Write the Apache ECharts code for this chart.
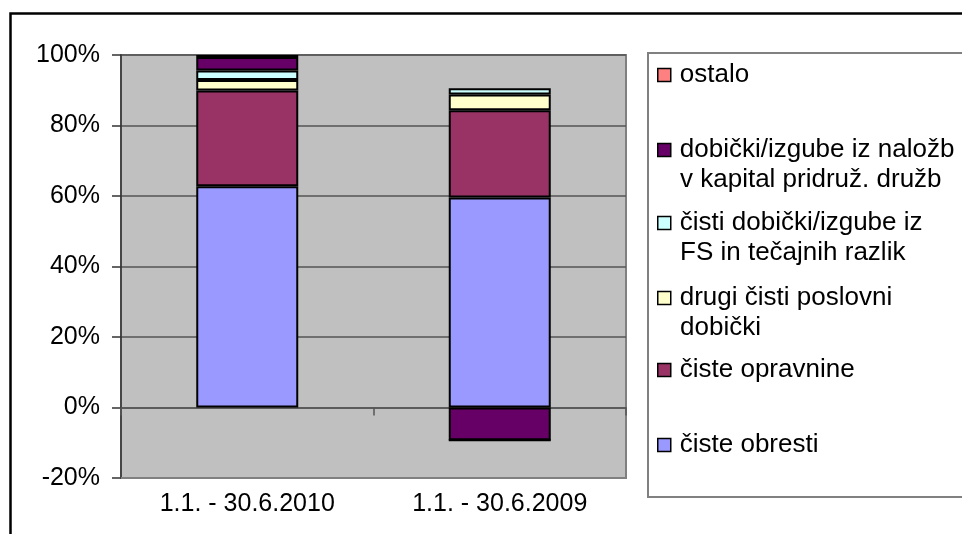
<!DOCTYPE html>
<html>
<head>
<meta charset="utf-8">
<script src="https://cdn.jsdelivr.net/npm/echarts@6/dist/echarts.min.js"></script>
<style>
    html, body { margin: 0; padding: 0; background: #fff; }
    #chart { width: 962px; height: 534px; }
</style>
</head>
<body>
<div id="chart"></div>
<script>
const categories = ['1.1. - 30.6.2010', '1.1. - 30.6.2009']
const cisteObresti = [62.8, 59.6]
const cisteOpravnine = [27.1, 24.7]
const drugiDobicki = [3.0, 4.5]
const cistiDobicki = [2.7, 1.8]
const dobickiNalozb = [3.8, -9.3]
const ostalo = [0.6, 0]
const yTicks = [-20, 0, 20, 40, 60, 80, 100]

const font = "'Liberation Sans', Arial, sans-serif"
const fontSize = 25
const legendFontSize = 26

const seriesList = [
    { name: 'čiste obresti', data: cisteObresti, color: '#9999ff' },
    { name: 'čiste opravnine', data: cisteOpravnine, color: '#993366' },
    { name: 'drugi čisti poslovni', data: drugiDobicki, color: '#ffffcc', line2: 'dobički' },
    { name: 'čisti dobički/izgube iz', data: cistiDobicki, color: '#ccffff', line2: 'FS in tečajnih razlik' },
    { name: 'dobički/izgube iz naložb', data: dobickiNalozb, color: '#660066', line2: 'v kapital pridruž. družb' },
    { name: 'ostalo', data: ostalo, color: '#ff8080' }
]
// legend first-line centres (px), same order as seriesList
const legendY = [445, 370, 298, 223, 150, 75]

const chart = echarts.init(document.getElementById('chart'))

const legends = seriesList.map((s, i) => ({
    data: [s.name],
    left: 657,
    top: legendY[i] - 15,
    padding: 0,
    icon: 'rect',
    itemWidth: 13,
    itemHeight: 13,
    selectedMode: false,
    itemStyle: { borderColor: '#000', borderWidth: 1.5 },
    textStyle: { fontFamily: font, fontSize: legendFontSize, color: '#000', lineHeight: 30, padding: [0, 0, 0, 4] }
}))

const graphics = [
    {
        type: 'rect',
        shape: { x: 10.5, y: 13.5, width: 1000, height: 1000 },
        style: { fill: 'none', stroke: '#000', lineWidth: 2.5 },
        silent: true
    },
    {
        type: 'rect',
        shape: { x: 648, y: 53, width: 400, height: 444 },
        style: { fill: '#fff', stroke: '#808080', lineWidth: 2 },
        silent: true,
        z: -1
    }
]
seriesList.forEach((s, i) => {
    if (s.line2) {
        graphics.push({
            type: 'text',
            style: {
                text: s.line2, x: 680, y: legendY[i] + 30,
                font: legendFontSize + 'px ' + font, fill: '#000', verticalAlign: 'middle'
            },
            silent: true
        })
    }
})

chart.setOption({
    animation: false,
    backgroundColor: '#fff',
    grid: {
        left: 121,
        right: 336,
        top: 55,
        bottom: 56,
        show: true,
        backgroundColor: '#c0c0c0',
        borderColor: '#808080',
        borderWidth: 2
    },
    legend: legends,
    graphic: graphics,
    xAxis: [
        {
            type: 'category',
            data: categories,
            position: 'bottom',
            axisLine: { onZero: false, lineStyle: { color: '#808080', width: 2 } },
            axisTick: { show: false },
            axisLabel: { fontFamily: font, fontSize: fontSize, color: '#000', margin: 14 }
        },
        {
            type: 'category',
            data: categories,
            position: 'top',
            axisLine: { onZero: true, lineStyle: { color: '#555', width: 1.5 } },
            axisTick: { show: true, inside: true, length: 8, lineStyle: { color: '#555', width: 1.5 } },
            axisLabel: { show: false }
        }
    ],
    yAxis: {
        type: 'value',
        min: yTicks[0],
        max: yTicks[yTicks.length - 1],
        interval: 20,
        axisLine: { show: true, lineStyle: { color: '#333', width: 1.5 } },
        axisTick: { show: true, length: 9, lineStyle: { color: '#333', width: 1.5 } },
        axisLabel: { fontFamily: font, fontSize: fontSize, color: '#000', margin: 21, formatter: '{value}%' },
        splitLine: { show: true, lineStyle: { color: '#555', width: 1.5 } }
    },
    series: seriesList.map(s => ({
        name: s.name,
        type: 'bar',
        stack: 'total',
        barWidth: 102,
        data: s.data,
        itemStyle: { color: s.color, borderColor: '#000', borderWidth: 2 }
    }))
})
</script>
</body>
</html>
